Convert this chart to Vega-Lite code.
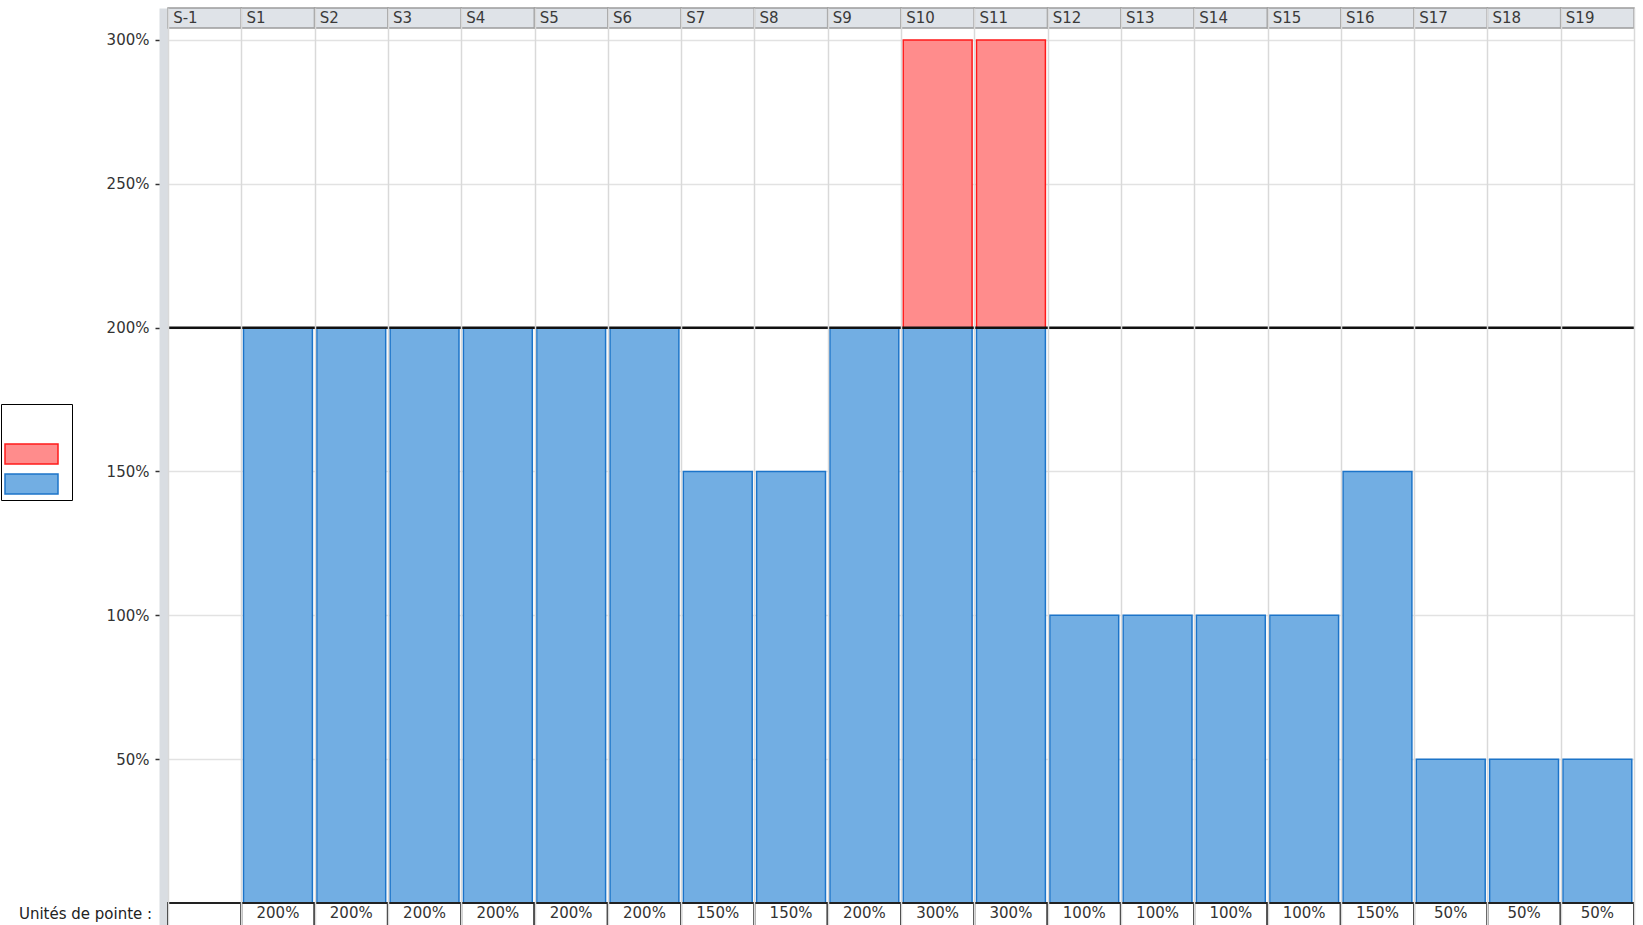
{
  "$schema": "https://vega.github.io/schema/vega-lite/v6.json",
  "width": 1466,
  "height": 917,
  "autosize": {"type": "none"},
  "padding": {"left": 168, "top": 8, "right": 9, "bottom": 0},
  "background": "white",
  "config": {"view": {"stroke": null}, "font": "DejaVu Sans"},
  "datasets": {
    "semaines": [
      {"sem": "S-1", "pointe": ""},
      {"sem": "S1", "pointe": "200%"},
      {"sem": "S2", "pointe": "200%"},
      {"sem": "S3", "pointe": "200%"},
      {"sem": "S4", "pointe": "200%"},
      {"sem": "S5", "pointe": "200%"},
      {"sem": "S6", "pointe": "200%"},
      {"sem": "S7", "pointe": "150%"},
      {"sem": "S8", "pointe": "150%"},
      {"sem": "S9", "pointe": "200%"},
      {"sem": "S10", "pointe": "300%"},
      {"sem": "S11", "pointe": "300%"},
      {"sem": "S12", "pointe": "100%"},
      {"sem": "S13", "pointe": "100%"},
      {"sem": "S14", "pointe": "100%"},
      {"sem": "S15", "pointe": "100%"},
      {"sem": "S16", "pointe": "150%"},
      {"sem": "S17", "pointe": "50%"},
      {"sem": "S18", "pointe": "50%"},
      {"sem": "S19", "pointe": "50%"}
    ],
    "barres": [
      {"sem": "S1", "serie": "bleu", "bas": 0, "haut": 2},
      {"sem": "S2", "serie": "bleu", "bas": 0, "haut": 2},
      {"sem": "S3", "serie": "bleu", "bas": 0, "haut": 2},
      {"sem": "S4", "serie": "bleu", "bas": 0, "haut": 2},
      {"sem": "S5", "serie": "bleu", "bas": 0, "haut": 2},
      {"sem": "S6", "serie": "bleu", "bas": 0, "haut": 2},
      {"sem": "S7", "serie": "bleu", "bas": 0, "haut": 1.5},
      {"sem": "S8", "serie": "bleu", "bas": 0, "haut": 1.5},
      {"sem": "S9", "serie": "bleu", "bas": 0, "haut": 2},
      {"sem": "S10", "serie": "bleu", "bas": 0, "haut": 2},
      {"sem": "S10", "serie": "rouge", "bas": 2, "haut": 3},
      {"sem": "S11", "serie": "bleu", "bas": 0, "haut": 2},
      {"sem": "S11", "serie": "rouge", "bas": 2, "haut": 3},
      {"sem": "S12", "serie": "bleu", "bas": 0, "haut": 1},
      {"sem": "S13", "serie": "bleu", "bas": 0, "haut": 1},
      {"sem": "S14", "serie": "bleu", "bas": 0, "haut": 1},
      {"sem": "S15", "serie": "bleu", "bas": 0, "haut": 1},
      {"sem": "S16", "serie": "bleu", "bas": 0, "haut": 1.5},
      {"sem": "S17", "serie": "bleu", "bas": 0, "haut": 0.5},
      {"sem": "S18", "serie": "bleu", "bas": 0, "haut": 0.5},
      {"sem": "S19", "serie": "bleu", "bas": 0, "haut": 0.5}
    ],
    "seuil": [{"limite": 2}]
  },
  "layer": [
    {
      "encoding": {
        "x": {
          "field": "sem",
          "type": "nominal",
          "scale": {
            "domain": ["S-1","S1","S2","S3","S4","S5","S6","S7","S8","S9","S10","S11","S12","S13","S14","S15","S16","S17","S18","S19"],
            "paddingInner": 0,
            "paddingOuter": 0
          },
          "axis": {
            "orient": "top",
            "labels": false,
            "ticks": false,
            "domain": false,
            "grid": true,
            "gridColor": "#d9d9d9",
            "gridWidth": 1.5,
            "tickBand": "extent",
            "title": null
          }
        }
      },
      "layer": [
        {
          "data": {"name": "semaines"},
          "mark": {"type": "rect", "fill": "#dfe3e8", "stroke": "#9c9c9c", "strokeWidth": 1.5},
          "encoding": {
            "y": {
              "datum": 3.1112,
              "type": "quantitative",
              "scale": {"domain": [-0.0765, 3.1112], "nice": false, "zero": false},
              "axis": {
                "orient": "left",
                "values": [0.5, 1, 1.5, 2, 2.5, 3],
                "format": ".0%",
                "labelFont": "DejaVu Sans",
                "labelFontSize": 15,
                "labelColor": "#333333",
                "tickSize": 8.5,
                "tickColor": "#333333",
                "tickWidth": 1.5,
                "offset": 4.5,
                "domainWidth": 9,
                "domainColor": "#d9dde2",
                "grid": true,
                "gridColor": "#e2e2e2",
                "gridWidth": 1.5,
                "labelPadding": 6,
                "title": "Unités de pointe :",
                "titleAngle": 0,
                "titleX": -78.5,
                "titleY": 905.5,
                "titleAlign": "center",
                "titleBaseline": "middle",
                "titleFont": "DejaVu Sans",
                "titleFontSize": 15,
                "titleFontWeight": "normal",
                "titleColor": "#222222"
              }
            },
            "y2": {"datum": 3.0417}
          }
        },
        {
          "data": {"name": "semaines"},
          "mark": {"type": "text", "align": "left", "baseline": "middle", "dx": -31.5, "font": "DejaVu Sans", "fontSize": 15, "color": "#3a3a3a"},
          "encoding": {
            "y": {"datum": 3.0765, "type": "quantitative"},
            "text": {"field": "sem"}
          }
        },
        {
          "data": {"name": "barres"},
          "mark": {"type": "bar", "width": {"band": 0.94}, "strokeWidth": 1.5},
          "encoding": {
            "y": {"field": "haut", "type": "quantitative"},
            "y2": {"field": "bas"},
            "fill": {
              "field": "serie",
              "type": "nominal",
              "scale": {"domain": ["rouge", "bleu"], "range": ["#ff8c8c", "#72aee3"]},
              "legend": {
                "orient": "none",
                "legendX": -167,
                "legendY": 396,
                "title": "\u00a0",
                "titleFontSize": 22,
                "titlePadding": 14,
                "padding": 3,
                "symbolType": "M-1,-1H4.3V1H-1ZM5.1,0",
                "symbolSize": 400,
                "symbolStrokeWidth": 1.5,
                "rowPadding": 4,
                "labelExpr": "''",
                "labelOffset": 0,
                "strokeColor": "black",
                "fillColor": "white"
              }
            },
            "stroke": {
              "field": "serie",
              "type": "nominal",
              "scale": {"domain": ["rouge", "bleu"], "range": ["#ff1a1a", "#1c74c9"]},
              "legend": {
                "orient": "none",
                "legendX": -167,
                "legendY": 396,
                "title": "\u00a0",
                "titleFontSize": 22,
                "titlePadding": 14,
                "padding": 3,
                "symbolType": "M-1,-1H4.3V1H-1ZM5.1,0",
                "symbolSize": 400,
                "symbolStrokeWidth": 1.5,
                "rowPadding": 4,
                "labelExpr": "''",
                "labelOffset": 0,
                "strokeColor": "black",
                "fillColor": "white"
              }
            }
          }
        },
        {
          "data": {"name": "semaines"},
          "mark": {"type": "rect", "fill": "white", "stroke": "#222222", "strokeWidth": 2},
          "encoding": {
            "y": {"datum": 0, "type": "quantitative"},
            "y2": {"datum": -0.12}
          }
        },
        {
          "data": {"name": "semaines"},
          "mark": {"type": "text", "align": "center", "baseline": "middle", "font": "DejaVu Sans", "fontSize": 15, "color": "#333333"},
          "encoding": {
            "y": {"datum": -0.0365, "type": "quantitative"},
            "text": {"field": "pointe"}
          }
        }
      ]
    },
    {
      "data": {"name": "seuil"},
      "mark": {"type": "rule", "color": "#111111", "strokeWidth": 2.5},
      "encoding": {"y": {"field": "limite", "type": "quantitative"}}
    }
  ]
}
